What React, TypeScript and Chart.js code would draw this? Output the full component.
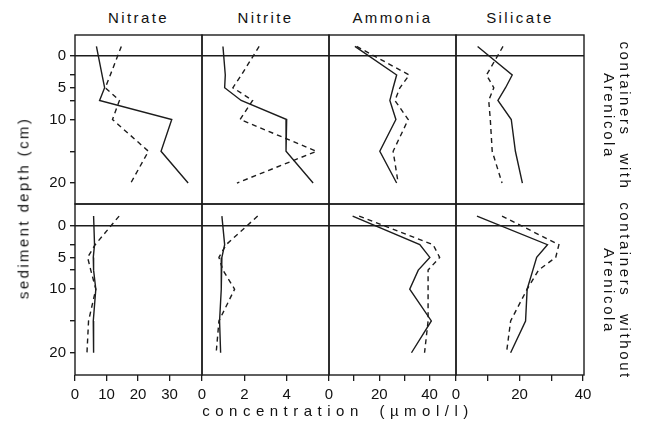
import React, { useEffect, useRef } from 'react';
import { Chart, registerables } from 'chart.js';

Chart.register(...registerables);

// ---------- data ----------
const depths = [-1.5, 3, 5, 7, 10, 15, 20];
const nutrients = ['Nitrate', 'Nitrite', 'Ammonia', 'Silicate'];

// containers with Arenicola
const nitrateWithSolid = [6.8, 8.6, 9.4, 7.8, 30.7, 27.3, 35.9];
const nitrateWithDashed = [14.7, 11.2, 9.6, 14.1, 11.9, 23.3, 17.7];
const nitriteWithSolid = [0.99, 1.1, 1.07, 1.85, 4.0, 3.97, 5.25];
const nitriteWithDashed = [2.7, 1.86, 1.46, 2.39, 1.8, 5.41, 1.65];
const ammoniaWithSolid = [10.3, 26.9, 25.5, 24.2, 26.6, 20.2, 26.9];
const ammoniaWithDashed = [11, 31.9, 28.2, 26.2, 31.5, 25.5, 27.5];
const silicateWithSolid = [6.8, 17.7, 15.6, 13.2, 17.4, 18.7, 20.9];
const silicateWithDashed = [14.8, 9.6, 11.9, 10.3, 10.8, 11.4, 14.5];

// containers without Arenicola
const nitrateWithoutSolid = [5.9, 6.2, 5.8, 5.9, 6.6, 5.8, 5.9];
const nitrateWithoutDashed = [14.0, 6.4, 4.0, 5.0, 6.6, 4.3, 3.8];
const nitriteWithoutSolid = [0.94, 1.07, 0.94, 0.92, 0.9, 0.83, 0.88];
const nitriteWithoutDashed = [2.63, 1.14, 0.8, 0.99, 1.54, 0.8, 0.67];
const ammoniaWithoutSolid = [9.4, 36.1, 40.1, 35.5, 32.1, 40.7, 32.8];
const ammoniaWithoutDashed = [12, 41.4, 44, 39.4, 39.4, 39.4, 38];
const silicateWithoutSolid = [6.6, 28.8, 25.4, 24.2, 22.4, 21.9, 17.2];
const silicateWithoutDashed = [14.5, 32.4, 31.4, 26, 22.4, 17.2, 15.9];

const solidSeries = [
  [nitrateWithSolid, nitriteWithSolid, ammoniaWithSolid, silicateWithSolid],
  [nitrateWithoutSolid, nitriteWithoutSolid, ammoniaWithoutSolid, silicateWithoutSolid],
];
const dashedSeries = [
  [nitrateWithDashed, nitriteWithDashed, ammoniaWithDashed, silicateWithDashed],
  [nitrateWithoutDashed, nitriteWithoutDashed, ammoniaWithoutDashed, silicateWithoutDashed],
];

// axes
const xMaxValues = [40.3, 6.0, 50.5, 40.3];
const xTickValues = [
  [0, 10, 20, 30],
  [0, 2, 4],
  [0, 10, 20, 30, 40],
  [0, 10, 20, 30, 40],
];
const xTickLabels = [
  ['0', '10', '20', '30'],
  ['0', '2', '4'],
  ['0', '', '20', '', '40'],
  ['0', '', '20', '', '40'],
];
const depthTickValues = [0, 3, 5, 7, 10, 15, 20];
const depthTickLabels = ['0', '', '5', '', '10', '', '20'];
const depthRanges = [
  [-3.3, 23.3],
  [-3.4, 23.5],
];
const rowLabels = [
  ['containers with', 'Arenicola'],
  ['containers without', 'Arenicola'],
];

// ---------- layout / style ----------
const colEdges = [75, 202, 329, 456, 584];
const rowEdges = [35, 204, 375];
const FONT = '"Liberation Sans", Arial, Helvetica, sans-serif';
const INK = '#1c1c1c';
const PAD = 14;

const framePlugin = {
  id: 'frame',
  afterDraw(chart: any) {
    const { ctx, chartArea: a } = chart;
    ctx.save();
    ctx.strokeStyle = INK;
    ctx.lineWidth = 1.4;
    ctx.strokeRect(a.left, a.top, a.right - a.left, a.bottom - a.top);
    ctx.restore();
  },
};

function Panel({ col, row }: { col: number; row: number }) {
  const ref = useRef<HTMLCanvasElement>(null);
  const yW = col === 0 ? 40 : 0;
  const xH = row === 1 ? 34 : 0;
  const left = colEdges[col] - PAD - yW;
  const top = rowEdges[row] - PAD;
  const w = colEdges[col + 1] - colEdges[col] + 2 * PAD + yW;
  const h = rowEdges[row + 1] - rowEdges[row] + 2 * PAD + xH;

  useEffect(() => {
    if (!ref.current) return;
    const solid = solidSeries[row][col];
    const dashed = dashedSeries[row][col];
    const chart = new Chart(ref.current, {
      type: 'line',
      data: {
        datasets: [
          {
            data: depths.map((d, i) => ({ x: solid[i], y: d })),
            borderColor: INK,
            borderWidth: 1.4,
            pointRadius: 0,
            fill: false,
            tension: 0,
          },
          {
            data: depths.map((d, i) => ({ x: dashed[i], y: d })),
            borderColor: INK,
            borderWidth: 1.4,
            borderDash: [5, 4],
            pointRadius: 0,
            fill: false,
            tension: 0,
          },
        ],
      },
      options: {
        animation: false,
        responsive: false,
        maintainAspectRatio: false,
        indexAxis: 'y',
        layout: { padding: PAD },
        plugins: {
          legend: { display: false },
          tooltip: { enabled: false },
        },
        scales: {
          x: {
            type: 'linear',
            position: 'bottom',
            min: 0,
            max: xMaxValues[col],
            afterBuildTicks: (s: any) => {
              s.ticks = xTickValues[col].map((v) => ({ value: v }));
            },
            afterFit: (s: any) => {
              s.height = xH;
            },
            border: { display: false },
            grid: {
              display: row === 1,
              drawOnChartArea: false,
              drawTicks: true,
              tickLength: 6,
              color: INK,
              tickColor: INK,
              lineWidth: 1.3,
            },
            ticks: {
              display: row === 1,
              autoSkip: false,
              maxRotation: 0,
              padding: 5,
              color: '#111',
              font: { family: FONT, size: 15 },
              callback: (_v: any, i: number) => xTickLabels[col][i],
            },
          },
          y: {
            type: 'linear',
            reverse: true,
            min: depthRanges[row][0],
            max: depthRanges[row][1],
            afterBuildTicks: (s: any) => {
              s.ticks = depthTickValues.map((v) => ({ value: v }));
            },
            afterFit: (s: any) => {
              s.width = yW;
            },
            border: { display: false },
            grid: {
              drawOnChartArea: true,
              drawTicks: col === 0,
              tickLength: 5,
              lineWidth: 1.4,
              tickColor: INK,
              color: (ctx: any) =>
                ctx.tick && ctx.tick.value === 0 ? INK : 'rgba(0,0,0,0)',
            },
            ticks: {
              display: col === 0,
              autoSkip: false,
              padding: 4,
              color: '#111',
              font: { family: FONT, size: 15 },
              callback: (_v: any, i: number) => depthTickLabels[i],
            },
          },
        },
      } as any,
      plugins: [framePlugin],
    });
    return () => chart.destroy();
  }, [col, row, xH, yW]);

  return (
    <canvas
      ref={ref}
      width={w}
      height={h}
      style={{ position: 'absolute', left, top, width: w, height: h }}
    />
  );
}

const textBase: React.CSSProperties = {
  position: 'absolute',
  fontFamily: FONT,
  color: '#111',
  whiteSpace: 'nowrap',
  textAlign: 'center',
};

export default function App() {
  return (
    <div
      style={{
        position: 'fixed',
        left: 0,
        top: 0,
        width: 646,
        height: 438,
        background: '#ffffff',
        overflow: 'hidden',
      }}
    >
      {nutrients.map((n, c) => (
        <div
          key={n}
          style={{
            ...textBase,
            left: (colEdges[c] + colEdges[c + 1]) / 2,
            top: 17,
            fontSize: 15,
            letterSpacing: 2.4,
            transform: 'translate(-50%, -50%)',
          }}
        >
          {n}
        </div>
      ))}
      {[0, 1].map((r) =>
        [0, 1, 2, 3].map((c) => <Panel key={`${r}-${c}`} col={c} row={r} />)
      )}
      <div
        style={{
          ...textBase,
          left: 23,
          top: 208,
          fontSize: 15,
          letterSpacing: 2.4,
          transform: 'translate(-50%, -50%) rotate(-90deg)',
        }}
      >
        sediment depth (cm)
      </div>
      <div
        style={{
          ...textBase,
          left: 338,
          top: 410,
          fontSize: 15,
          letterSpacing: 5.5,
          wordSpacing: 6,
          transform: 'translate(-50%, -50%)',
        }}
      >
        concentration (µmol/l)
      </div>
      {rowLabels.map((lines, r) => (
        <div
          key={r}
          style={{
            ...textBase,
            left: 617,
            top: r === 0 ? 116 : 291,
            fontSize: 15,
            lineHeight: '16px',
            letterSpacing: 2.6,
            wordSpacing: 10,
            transform: 'translate(-50%, -50%) rotate(90deg)',
          }}
        >
          {lines[0]}
          <br />
          {lines[1]}
        </div>
      ))}
    </div>
  );
}
